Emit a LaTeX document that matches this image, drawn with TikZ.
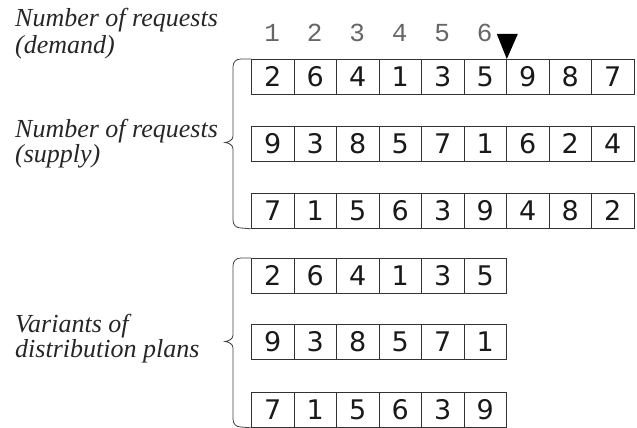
\documentclass[tikz,border=0pt]{standalone}
\usepackage{fontspec}
\newfontfamily\lblfont{Liberation Serif}
\newfontfamily\cellfont{DejaVu Sans}
\newfontfamily\headfont{Liberation Mono}
\begin{document}
\begin{tikzpicture}[x=1pt,y=-1pt,
  cellbox/.style={draw=black!80,line width=0.8pt,minimum width=42.5pt,minimum height=35pt,inner sep=0pt,anchor=north west,font=\cellfont\fontsize{27}{27}\selectfont,text=black!90},
  headnum/.style={anchor=base,inner sep=0pt,font=\headfont\fontsize{26}{26}\selectfont,text=black!60},
  lbl/.style={anchor=base west,inner sep=0pt,font=\lblfont\itshape\fontsize{26}{26}\selectfont,text=black!85},
  bracepath/.style={draw=black!75,line width=0.8pt}]
\useasboundingbox (0,0) rectangle (637,428);
% labels
\node[lbl] (l1a) at (15,27) {Number of requests};
\node[lbl] (l1b) at (15,53) {(demand)};
\node[lbl] (l2a) at (15,137) {Number of requests};
\node[lbl] (l2b) at (15,162) {(supply)};
\node[lbl] (l3a) at (15,332) {Variants of};
\node[lbl] (l3b) at (15,357) {distribution plans};
% rows
\foreach \r/\top/\vals in {1/59/{2,6,4,1,3,5,9,8,7},2/126/{9,3,8,5,7,1,6,2,4},3/193/{7,1,5,6,3,9,4,8,2},4/258/{2,6,4,1,3,5},5/324/{9,3,8,5,7,1},6/392/{7,1,5,6,3,9}}{
  \foreach \v [count=\c] in \vals {
    \node[cellbox] (r\r c\c) at ({251+(\c-1)*42.5},\top) {\v};
  }
}
% header numbers
\foreach \c in {1,...,6}{
  \node[headnum] (h\c) at ({251+(\c-0.5)*42.5},42) {\c};
}
% marker triangle
\coordinate (tipm) at (r1c6.north east);
\fill[black] ([xshift=-10pt,yshift=25pt]tipm) -- ([xshift=11pt,yshift=25pt]tipm) -- (tipm) -- cycle;
% upper brace
\draw[bracepath] (r1c1.north west) -- (241,59) .. controls (236,59) and (233,62) .. (233,67)
  -- (233,136) .. controls (233,140) and (229,142) .. (225,142.5)
  .. controls (229,143) and (233,145) .. (233,149)
  -- (233,220) .. controls (233,225) and (236,228) .. (241,228) -- (r3c1.south west);
% lower brace
\draw[bracepath] (r4c1.north west) -- (241,258) .. controls (236,258) and (233,261) .. (233,266)
  -- (233,335) .. controls (233,339) and (229,341) .. (225,341.5)
  .. controls (229,342) and (233,344) .. (233,348)
  -- (233,419) .. controls (233,424) and (236,427) .. (241,427) -- (r6c1.south west);
\end{tikzpicture}
\end{document}
